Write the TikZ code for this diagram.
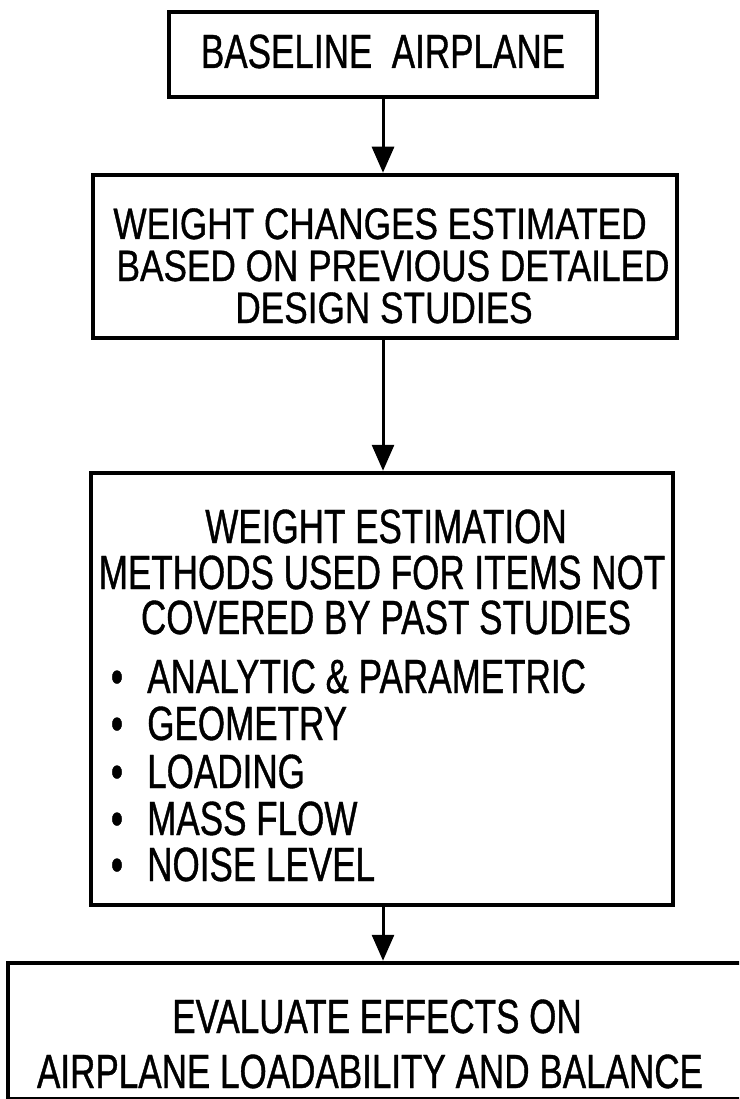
\documentclass[tikz,border=0pt]{standalone}
\usepackage{fontspec}
\setmainfont{Liberation Sans}[FakeStretch=0.73,FakeBold=0.8]
\newfontfamily\narrowsans{Liberation Sans}[FakeStretch=0.80,FakeBold=0.8]
\usetikzlibrary{arrows.meta}
\begin{document}
\begin{tikzpicture}[x=1pt,y=-1pt,
  frame/.style={draw, line width=4.5pt, inner sep=0pt},
  flow/.style={draw, line width=3pt, -{Triangle[width=22pt,length=26pt]}},
  lbl/.style={anchor=base, inner sep=0pt, text height=35pt, text depth=0pt,
    font=\fontsize{48}{48}\selectfont},
  small/.style={lbl, text height=32pt, font=\narrowsans\fontsize{44}{44}\selectfont},
  item/.style={lbl, anchor=base west}]
\useasboundingbox (0,0) rectangle (739,1099);
\clip (0,0) rectangle (739,1099);

% boxes
\node[frame, minimum width=428pt, minimum height=85pt]  (b1) at (383,54.5) {};
\node[frame, minimum width=584pt, minimum height=163pt] (b2) at (385,256.5) {};
\node[frame, minimum width=582pt, minimum height=432pt] (b3) at (382,689) {};
\node[frame, minimum width=752pt, minimum height=136pt] (b4) at (384,1031) {};

% texts
\node[lbl] (t1) at (383,68) {BASELINE\ \ AIRPLANE};

\node[small] (t2a) at (380,239) {WEIGHT CHANGES ESTIMATED};
\node[small] (t2b) at (393,281) {BASED ON PREVIOUS DETAILED};
\node[small] (t2c) at (384,323) {DESIGN STUDIES};

\node[lbl] (t3a) at (386,543) {WEIGHT ESTIMATION};
\node[lbl] (t3b) at (382,589) {METHODS USED FOR ITEMS NOT};
\node[lbl] (t3c) at (386,634) {COVERED BY PAST STUDIES};
\foreach \y/\s [count=\i] in {693/{ANALYTIC \& PARAMETRIC}, 740/GEOMETRY, 788/LOADING, 835/MASS FLOW, 881/NOISE LEVEL}{
  \node[lbl] (d\i) at (117,\y) {\textbullet};
  \node[item] (l\i) at (147,\y) {\s};
}

\node[lbl] (t4a) at (377,1033) {EVALUATE EFFECTS ON};
\node[lbl] (t4b) at (370,1088) {AIRPLANE LOADABILITY AND BALANCE};

% connectors
\draw[flow] (b1.south) -- (b1.south |- b2.north);
\draw[flow] (b1.south |- b2.south) -- (b1.south |- b3.north);
\draw[flow] (b1.south |- b3.south) -- (b1.south |- b4.north);
\end{tikzpicture}
\end{document}
